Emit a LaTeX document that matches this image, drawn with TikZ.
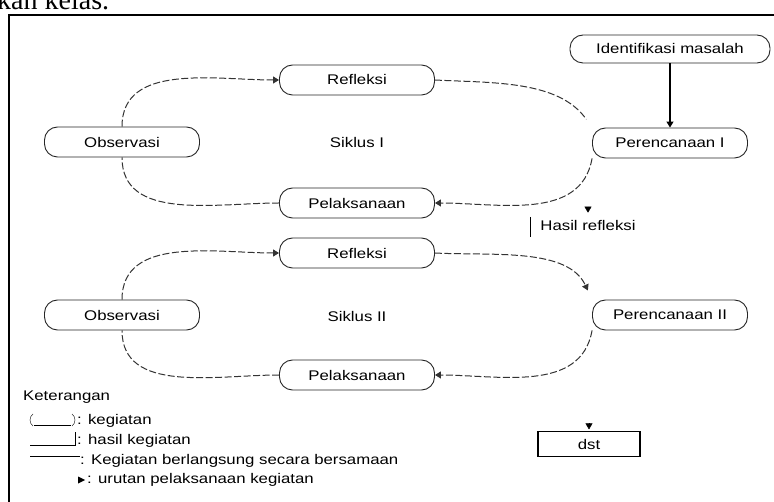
\documentclass[tikz,border=0pt]{standalone}
\usepackage{fontspec}
\setmainfont{Liberation Sans}[FakeStretch=1.2]
\newfontfamily\judulfont{Liberation Serif}
\usetikzlibrary{arrows.meta}

\begin{document}
\begin{tikzpicture}[x=1pt,y=1pt,font=\fontsize{14}{16}\selectfont,
  kegiatan/.style={draw=black!85,line width=0.9pt,rounded corners=13pt,minimum width=155pt,minimum height=30pt,inner sep=2pt},
  alur/.style={draw=black!80,line width=1pt,dash pattern=on 7pt off 2.5pt},
  panah/.style={-{Triangle[width=7pt,length=6pt]}},
  ket/.style={anchor=west,inner sep=0pt}]
\useasboundingbox (0,0) rectangle (774,-502);
\node[anchor=base west,inner sep=0pt,font=\judulfont\fontsize{28}{30}\selectfont] (judul) at (-3,-10) {kan kelas.};
\draw[line width=2pt] (8.5,-510) -- (8.5,-15) -- (780,-15);
\node[kegiatan,minimum width=200pt,minimum height=28pt] (idm) at (670,-49) {Identifikasi masalah};
\node[kegiatan] (ref1) at (357,-80) {Refleksi};
\node[kegiatan] (obs1) at (122,-142) {Observasi};
\node (sik1) at (357,-142) {Siklus I};
\node[kegiatan] (per1) at (670,-143) {Perencanaan I};
\node[kegiatan] (pel1) at (357,-203) {Pelaksanaan};
\node[inner sep=0pt] (hasil) at (588,-225) {Hasil refleksi};
\node[kegiatan] (ref2) at (357,-253) {Refleksi};
\node[kegiatan] (obs2) at (122,-315) {Observasi};
\node (sik2) at (357,-316) {Siklus II};
\node[kegiatan] (per2) at (670,-315) {Perencanaan II};
\node[kegiatan] (pel2) at (357,-375) {Pelaksanaan};
\node[draw,line width=1.2pt,minimum width=102pt,minimum height=25pt] (dst) at (589,-444) {dst};
\coordinate (h0) at ([yshift=13pt]hasil.north);
\coordinate (d0) at ([yshift=7.5pt]dst.north);
\draw[line width=1.2pt,panah] (idm) -- (per1);
\draw[alur,panah] (obs1.north) to[out=90,in=180] (ref1.west);
\draw[alur,shorten >=10pt] (ref1.east) to[out=-3,in=125,looseness=0.9] (per1.north west);
\draw[alur,panah] (per1.south west) to[out=-100,in=0] (pel1.east);
\draw[alur] (pel1.west) to[out=180,in=-90] (obs1.south);
\draw[alur,panah] (obs2.north) to[out=90,in=180] (ref2.west);
\draw[alur,panah,shorten >=10pt] (ref2.east) to[out=-3,in=115,looseness=0.9] (per2.north west);
\draw[alur,panah] (per2.south west) to[out=-100,in=0] (pel2.east);
\draw[alur] (pel2.west) to[out=180,in=-90] (obs2.south);
\draw[line width=1.2pt] ([xshift=-10pt,yshift=8pt]hasil.west) -- ([xshift=-10pt,yshift=-12pt]hasil.west);
\draw[panah,shorten >=7pt] (h0) -- (hasil.north);
\draw[panah,shorten >=1.5pt] (d0) -- (dst.north);
\node[ket] (ketr) at (23,-397) {Keterangan};
\node[ket] (k1) at (77,-421) {: kegiatan};
\node[ket] (k2) at (77,-441) {: hasil kegiatan};
\node[ket] (k3) at (80,-461) {: Kegiatan berlangsung secara bersamaan};
\node[ket] (k4) at (87,-480) {: urutan pelaksanaan kegiatan};
\draw (33,-414) .. controls (29,-417) and (29,-423) .. (33,-426);
\draw (34,-425) -- (71,-425);
\draw (72,-414) .. controls (76,-417) and (76,-423) .. (72,-426);
\draw (30,-445) -- (75,-445) -- (75,-432);
\draw (30,-456) -- (80,-456);
\fill (78,-476.5) -- (85,-480) -- (78,-483.5) -- cycle;
\end{tikzpicture}
\end{document}
